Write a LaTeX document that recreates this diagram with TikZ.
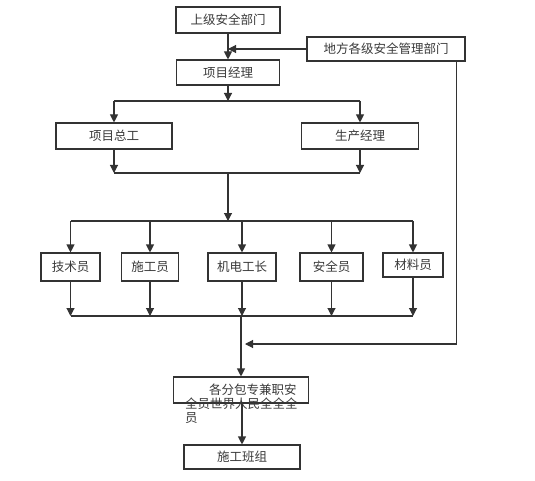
\documentclass[tikz,border=0pt]{standalone}
\usepackage{fontspec}
\newfontfamily\cjk{Noto Sans CJK SC}
\usepackage{tikz}
\usetikzlibrary{arrows.meta}
\usepackage{xcolor}
\definecolor{inkgrey}{HTML}{333333}
\definecolor{textgrey}{HTML}{3A3A3A}

\begin{document}
\begin{tikzpicture}[
        x=1pt, y=-1pt,
        box/.style={rectangle, draw=inkgrey, line width=1.1pt, fill=white,
          minimum width=#1, minimum height=26pt, inner sep=2pt,
          text=textgrey, font=\cjk\fontsize{12.5}{14}\selectfont},
        box/.default=104pt,
        line/.style={line width=1.1pt, draw=inkgrey},
        arrow/.style={-{Triangle[length=8pt, width=8pt]}, line width=1.1pt, draw=inkgrey},
      ]
        \useasboundingbox (0,0) rectangle (535,481);

        \node[box=104pt] (top) at (228,20) {上级安全部门};
        \node[box=158pt, minimum height=24pt] (local) at (386,49) {地方各级安全管理部门};
        \node[box=103pt, minimum height=25pt] (pm) at (228,72.5) {项目经理};
        \node[box=116pt] (chief) at (114,136) {项目总工};
        \node[box=117pt] (prod) at (360,136) {生产经理};

        \node[box=59pt, minimum height=28pt] (tech) at (70.5,267) {技术员};
        \node[box=57pt, minimum height=28pt] (constr) at (150,267) {施工员};
        \node[box=68pt, minimum height=28pt] (mech) at (242,267) {机电工长};
        \node[box=63pt, minimum height=28pt] (safe) at (331.5,267) {安全员};
        \node[box=60pt, minimum height=24pt] (mat) at (413,265) {材料员};

        \node[box=135pt] (sub) at (241,390)
          {\smash{\raisebox{-4pt}{\parbox[t]{112pt}{\hspace*{24pt}各分包专兼职安\\全员世界人民全全全\\员}}}};
        \node[box=116pt, minimum height=24pt] (team) at (242,457) {施工班组};

        \coordinate (busA) at (0,101);
        \coordinate (busB) at (0,173);
        \coordinate (busC) at (0,221);
        \coordinate (busD) at (0,316);
        \coordinate (feed) at (0,344);

        \draw[arrow] (top) -- (pm);
        \draw[arrow] (local.west) -- (local.west -| pm.north);

        \draw[arrow] (pm) -- (pm |- busA);
        \draw[line] (chief |- busA) -- (prod |- busA);
        \foreach \n in {chief,prod}
          \draw[arrow] (\n |- busA) -- (\n);

        \foreach \n in {chief,prod}
          \draw[arrow] (\n) -- (\n |- busB);
        \draw[line] (chief |- busB) -- (prod |- busB);
        \draw[arrow] (pm |- busB) -- (pm |- busC);

        \draw[line] (tech |- busC) -- (mat |- busC);
        \foreach \n in {tech,constr,mech,safe,mat}
          \draw[arrow] (\n |- busC) -- (\n);

        \foreach \n in {tech,constr,mech,safe,mat}
          \draw[arrow] (\n) -- (\n |- busD);
        \draw[line] (tech |- busD) -- (mat |- busD);
        \draw[arrow] (sub |- busD) -- (sub);

        \draw[arrow] ([xshift=-9pt]local.south east) |- ([xshift=4pt]sub.north |- feed);

        \draw[arrow] (sub.south -| team) -- (team);
      \end{tikzpicture}
\end{document}
